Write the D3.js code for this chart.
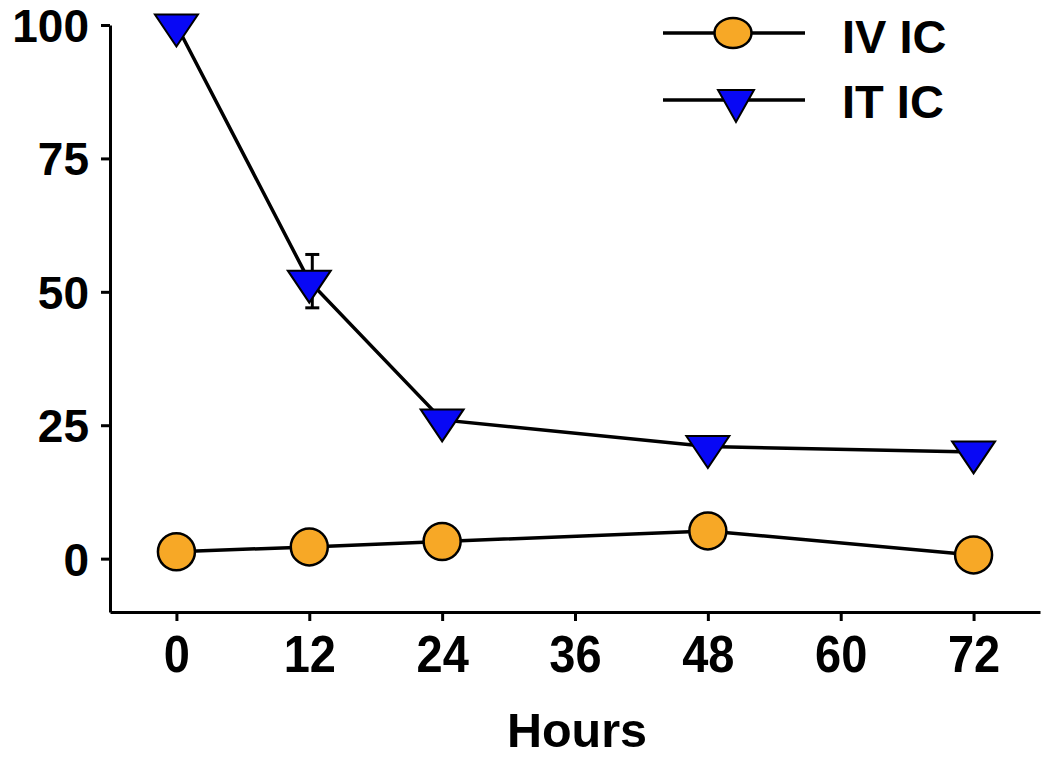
<!DOCTYPE html>
<html>
<head>
<meta charset="utf-8">
<script src="https://cdn.jsdelivr.net/npm/d3@7"></script>
<style>
  html, body { margin: 0; padding: 0; background: #fff; }
  svg { display: block; }
  text { font-family: "Liberation Sans", Arial, sans-serif; font-weight: bold; fill: #000; }
</style>
</head>
<body>
<svg id="chart" width="1050" height="759"></svg>
<script>
// ---- data ----
const hours = [0, 12, 24, 48, 72];
const ivIC = [1.3, 2.2, 3.2, 5.2, 0.7];
const itIC = [100, 52, 26, 21, 20];
const itErr = [0, 5, 0, 0, 0];
const xTicks = [0, 12, 24, 36, 48, 60, 72];
const yTicks = [0, 25, 50, 75, 100];
const seriesNames = ["IV IC", "IT IC"];
const xLabel = "Hours";

// ---- layout ----
const svg = d3.select("#chart");
const x = d3.scaleLinear().domain([-6, 78]).range([110, 1040]);
const y = d3.scaleLinear().domain([-10, 100]).range([612, 25]);

const orange = "#F7A826";
const blue = "#0808F5";

// axes
const yAxis = svg.append("g").attr("transform", "translate(110,0)")
  .call(d3.axisLeft(y).tickValues(yTicks).tickSize(9).tickSizeOuter(0).tickPadding(12));
const xAxis = svg.append("g").attr("transform", "translate(0,612)")
  .call(d3.axisBottom(x).tickValues(xTicks).tickSize(9).tickSizeOuter(0));

[yAxis, xAxis].forEach(g => {
  g.select(".domain").attr("stroke", "#000").attr("stroke-width", 3);
  g.selectAll(".tick line").attr("stroke", "#000").attr("stroke-width", 3);
  g.selectAll(".tick text").style("font-family", "'Liberation Sans', Arial, sans-serif")
    .style("font-weight", "bold").attr("fill", "#000");
});
yAxis.selectAll(".tick text").style("font-size", "46px").attr("dy", "0.36em");
xAxis.selectAll(".tick text").style("font-size", "47px")
  .attr("y", 60 / 1.1).attr("dy", 0).attr("transform", "scale(1,1.1)");

// x label
svg.append("text").attr("x", 577).attr("y", 747).attr("text-anchor", "middle")
  .style("font-size", "48.5px").text(xLabel);

// lines
const line = d3.line().x(d => x(d[0])).y(d => y(d[1]));
const ivPts = hours.map((h, i) => [h, ivIC[i]]);
const itPts = hours.map((h, i) => [h, itIC[i]]);

// error bars
const eb = svg.append("g").attr("stroke", "#000").attr("stroke-width", 3);
hours.forEach((h, i) => {
  if (itErr[i] > 0) {
    const cx = x(h) + 3;
    eb.append("line").attr("x1", cx).attr("x2", cx).attr("y1", y(itIC[i] - itErr[i])).attr("y2", y(itIC[i] + itErr[i]));
    [itIC[i] - itErr[i], itIC[i] + itErr[i]].forEach(v => {
      eb.append("line").attr("x1", cx - 7).attr("x2", cx + 7).attr("y1", y(v)).attr("y2", y(v));
    });
  }
});

svg.append("path").datum(ivPts).attr("d", line).attr("fill", "none").attr("stroke", "#000").attr("stroke-width", 3.5);
svg.append("path").datum(itPts).attr("d", line).attr("fill", "none").attr("stroke", "#000").attr("stroke-width", 3.5);

function triPath(cx, cy, hw, top, apex) {
  return `M${cx - hw},${cy - top}L${cx + hw},${cy - top}L${cx},${cy + apex}Z`;
}

// markers
svg.append("g").selectAll("circle").data(ivPts).join("circle")
  .attr("cx", d => x(d[0])).attr("cy", d => y(d[1])).attr("r", 18.5)
  .attr("fill", orange).attr("stroke", "#000").attr("stroke-width", 2.5);
svg.append("g").selectAll("path").data(itPts).join("path")
  .attr("d", d => triPath(x(d[0]), y(d[1]), 21.5, 10.5, 21.5))
  .attr("fill", blue).attr("stroke", "#000").attr("stroke-width", 2);

// legend
const lg = svg.append("g");
const legendRows = [
  { name: seriesNames[0], y: 33, base: 53, type: "circle" },
  { name: seriesNames[1], y: 100, base: 118, type: "tri" }
];
legendRows.forEach(r => {
  lg.append("line").attr("x1", 663).attr("x2", 805).attr("y1", r.y).attr("y2", r.y)
    .attr("stroke", "#000").attr("stroke-width", 3.5);
  if (r.type === "circle") {
    lg.append("ellipse").attr("cx", 733).attr("cy", r.y).attr("rx", 18.5).attr("ry", 15)
      .attr("fill", orange).attr("stroke", "#000").attr("stroke-width", 2.5);
  } else {
    lg.append("path").attr("d", triPath(736, r.y, 18, 10, 22)).attr("fill", blue).attr("stroke", "#000").attr("stroke-width", 2);
  }
  lg.append("text").attr("x", 842).attr("y", r.base).style("font-size", "47px").text(r.name);
});
</script>
</body>
</html>
